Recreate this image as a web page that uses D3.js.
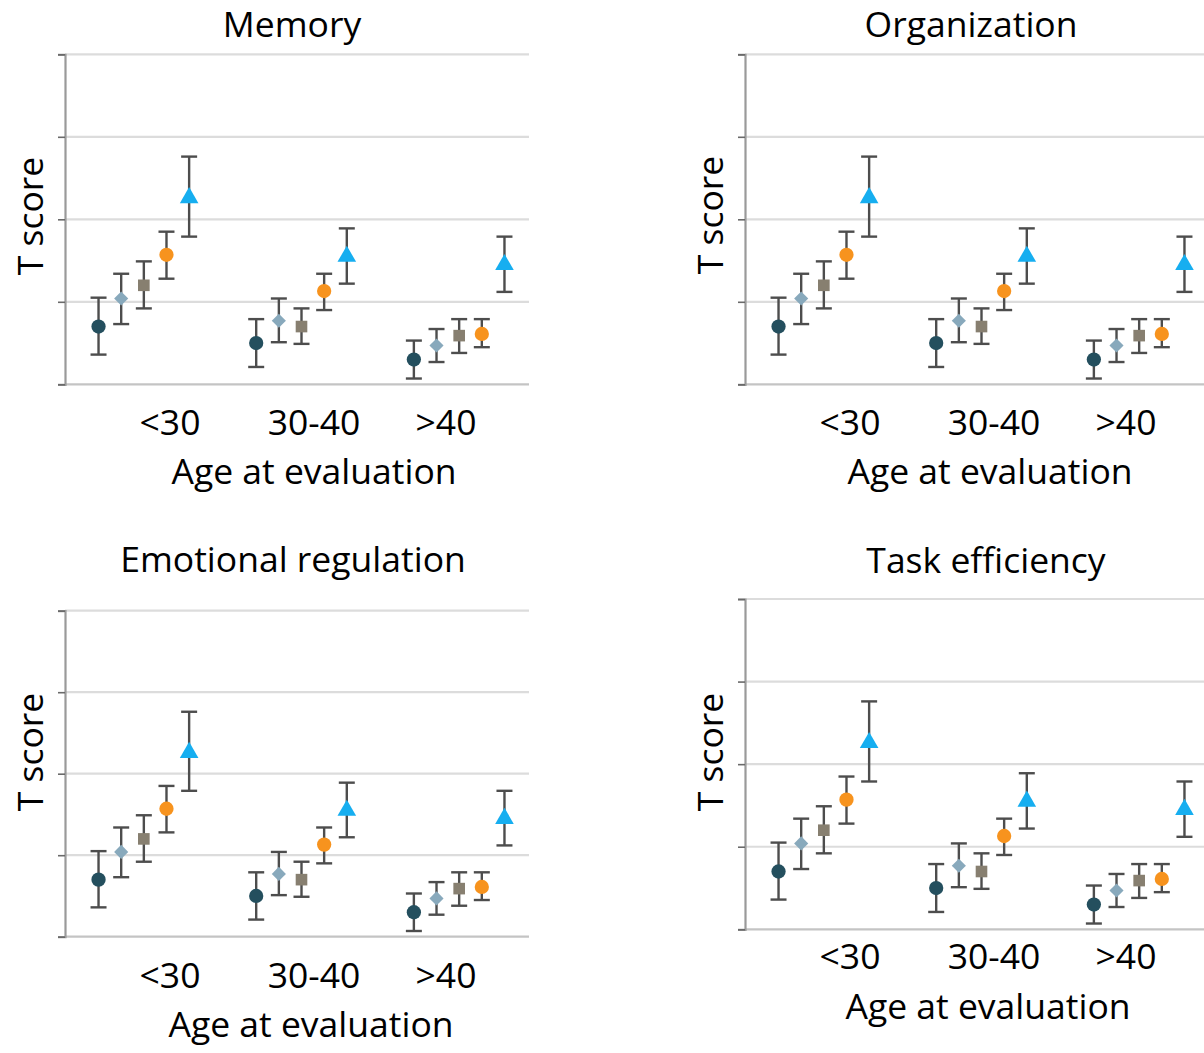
<!DOCTYPE html>
<html lang="en">
<head>
    <meta charset="UTF-8">
    <title>T scores by age at evaluation</title>
    <script src="https://d3js.org/d3.v7.min.js"></script>
    <style>
        body {
            margin: 0;
            background-color: white;
        }
        text {
            font-family: "Open Sans", sans-serif;
            font-size: 35.5px;
            fill: #000;
        }
    </style>
</head>
<body>
    <div id="chart"></div>
    <script>
        // Data (T score units)
        const ages = ["<30", "30-40", ">40"];
        const series = ["s1", "s2", "s3", "s4", "s5"];
        const means = [
            [47.0, 45.0, 43.0],
            [50.4, 47.7, 44.7],
            [52.0, 47.0, 45.9],
            [55.7, 51.3, 46.1],
            [62.6, 55.5, 54.5]
        ];
        const upper = [
            [50.5, 47.9, 45.3],
            [53.4, 50.4, 46.7],
            [54.9, 49.2, 47.9],
            [58.5, 53.4, 47.9],
            [67.6, 58.9, 57.9]
        ];
        const lower = [
            [43.6, 42.1, 40.7],
            [47.3, 45.1, 42.7],
            [49.2, 44.9, 43.8],
            [52.8, 49.0, 44.5],
            [57.9, 52.2, 51.2]
        ];
        const yTicks = [40, 50, 60, 70, 80];
        const panelTitles = ["Memory", "Organization", "Emotional regulation", "Task efficiency"];

        const colors = ["#244f5e", "#88a9bc", "#877f70", "#f7931e", "#16aef0"];
        const shapes = [d3.symbolCircle, d3.symbolSquare, d3.symbolSquare, d3.symbolCircle, d3.symbolTriangle];
        const sizes = [160, 100, 135, 160, 150];
        const turns = [0, 45, 0, 0, 0];   // the diamond is a turned square

        // Where each small chart sits in the page
        const panels = [
            {x0: 65,  top: 54.3,  bottom: 384.3, titleX: 292, titleY: 37,  tickY: 435, axisY: 484,  axisX: 314, ylabX: 43,  ylabY: 216},
            {x0: 745, top: 54.3,  bottom: 384.3, titleX: 971, titleY: 37,  tickY: 435, axisY: 484,  axisX: 990, ylabX: 723, ylabY: 215},
            {x0: 65,  top: 610.7, bottom: 936.7, titleX: 293, titleY: 572, tickY: 988, axisY: 1037, axisX: 311, ylabX: 43,  ylabY: 752},
            {x0: 745, top: 599,   bottom: 929.3, titleX: 986, titleY: 573, tickY: 969, axisY: 1019, axisX: 988, ylabX: 723, ylabY: 752}
        ];
        const plotWidth = 464;

        const svg = d3.select("#chart")
          .append("svg")
            .attr("width", 1204)
            .attr("height", 1053);

        // group bands and series offsets inside each band
        const x = d3.scaleBand().domain(ages).range([0, 473]);
        const xs = d3.scalePoint().domain(series).range([-45.3, 45.3]);
        const labelX = d3.scaleOrdinal().domain(ages).range([105, 249, 381]);

        panels.forEach((p, k) => {
            const y = d3.scaleLinear().domain([40, 80]).range([p.bottom, p.top]);
            const g = svg.append("g").attr("transform", `translate(${p.x0},0)`);

            // gridlines
            g.selectAll(".grid")
                .data(yTicks)
                .enter()
                .append("line")
                .attr("x1", 0)
                .attr("x2", plotWidth)
                .attr("y1", d => y(d))
                .attr("y2", d => y(d))
                .attr("stroke", d => d === 40 ? "#c4c4c4" : "#dcdcdc")
                .attr("stroke-width", 2.2);

            // y axis without labels
            const yAxis = g.append("g")
                .call(d3.axisLeft(y).tickValues(yTicks).tickSize(7).tickFormat(""));
            yAxis.select(".domain").attr("stroke", "#9a9a9a").attr("stroke-width", 2.2);
            yAxis.selectAll(".tick line").attr("stroke", "#6a6a6a").attr("stroke-width", 1.6);

            // error bars and markers
            series.forEach((s, j) => {
                const pts = ages.map((a, i) => ({
                    cx: x(a) + x.bandwidth() / 2 + xs(s),
                    m: means[j][i], hi: upper[j][i], lo: lower[j][i]
                }));

                const eb = g.append("g")
                    .attr("stroke", "#4d4d4d")
                    .attr("stroke-width", 2.4);
                eb.selectAll(".stem")
                    .data(pts)
                    .enter()
                    .append("line")
                    .attr("x1", d => d.cx).attr("x2", d => d.cx)
                    .attr("y1", d => y(d.hi)).attr("y2", d => y(d.lo));
                eb.selectAll(".capTop")
                    .data(pts)
                    .enter()
                    .append("line")
                    .attr("x1", d => d.cx - 8).attr("x2", d => d.cx + 8)
                    .attr("y1", d => y(d.hi)).attr("y2", d => y(d.hi));
                eb.selectAll(".capBot")
                    .data(pts)
                    .enter()
                    .append("line")
                    .attr("x1", d => d.cx - 8).attr("x2", d => d.cx + 8)
                    .attr("y1", d => y(d.lo)).attr("y2", d => y(d.lo));

                g.selectAll(".mark" + j)
                    .data(pts)
                    .enter()
                    .append("path")
                    .attr("d", d3.symbol().type(shapes[j]).size(sizes[j]))
                    .attr("transform", d => `translate(${d.cx},${y(d.m)}) rotate(${turns[j]})`)
                    .attr("fill", colors[j]);
            });

            // category labels
            g.selectAll(".age")
                .data(ages)
                .enter()
                .append("text")
                .attr("x", d => labelX(d))
                .attr("y", p.tickY)
                .attr("text-anchor", "middle")
                .text(d => d);

            // axis titles
            svg.append("text")
                .attr("x", p.axisX)
                .attr("y", p.axisY)
                .attr("text-anchor", "middle")
                .text("Age at evaluation");

            svg.append("text")
                .attr("transform", `translate(${p.ylabX},${p.ylabY}) rotate(-90)`)
                .attr("text-anchor", "middle")
                .text("T score");

            svg.append("text")
                .attr("x", p.titleX)
                .attr("y", p.titleY)
                .attr("text-anchor", "middle")
                .text(panelTitles[k]);
        });
    </script>
</body>
</html>
